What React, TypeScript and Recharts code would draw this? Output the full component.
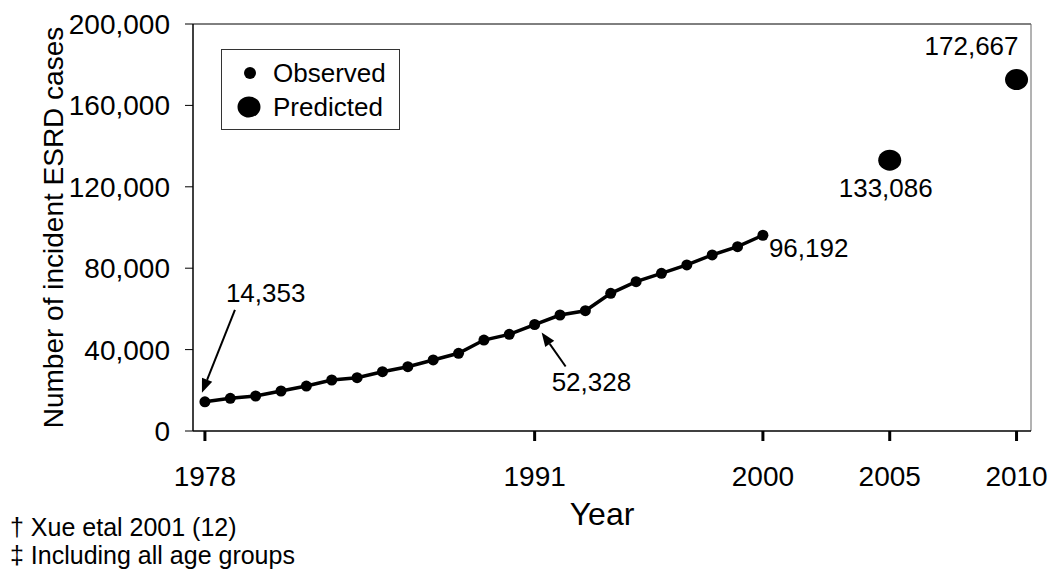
import React from "react";
import { ComposedChart, Line, Scatter, XAxis, YAxis, Legend, ReferenceLine } from "recharts";

// incident ESRD cases, observed 1978-2000 and predicted 2005/2010
const OBS_YEARS = [1978, 1979, 1980, 1981, 1982, 1983, 1984, 1985, 1986, 1987, 1988, 1989, 1990, 1991, 1992, 1993, 1994, 1995, 1996, 1997, 1998, 1999, 2000];
const OBS_CASES = [14353, 16070, 17200, 19660, 22100, 25060, 26200, 29140, 31600, 34900, 38180, 44700, 47500, 52328, 57000, 59100, 67650, 73400, 77500, 81600, 86500, 90600, 96192];
const PRED_YEARS = [2005, 2010];
const PRED_CASES = [133086, 172667];

const X_TICKS = [1978, 1991, 2000, 2005, 2010];
const Y_TICKS = [0, 40000, 80000, 120000, 160000, 200000];
const LEGEND_ITEMS = ["Observed", "Predicted"];
const FOOTNOTES = ["\u2020 Xue etal 2001 (12)", "\u2021 Including all age groups"];

const X_MIN = 1977.53;
const X_MAX = 2010.57;
const FONT = "'Liberation Sans', Arial, sans-serif";

const observed = OBS_YEARS.map((year, i) => ({ year, cases: OBS_CASES[i] }));
const predicted = PRED_YEARS.map((year, i) => ({ year, cases: PRED_CASES[i] }));

// where each value label sits relative to its point (arrow = tail dx,dy -> tip dx,dy)
const CALLOUTS: Record<number, { dx: number; dy: number; anchor: string; arrow?: number[] }> = {
  1978: { dx: 21, dy: -100, anchor: "start", arrow: [30, -92, -3, -9] },
  1991: { dx: 17, dy: 66, anchor: "start", arrow: [31, 42, 7, 8] },
  2000: { dx: 6, dy: 22, anchor: "start" },
  2005: { dx: -4, dy: 37, anchor: "middle" },
  2010: { dx: 2, dy: -25, anchor: "end" },
};

const fmt = (v: number) => v.toLocaleString("en-US");

function Callout({ x, y, year, cases }: { x: number; y: number; year: number; cases: number }) {
  const c = CALLOUTS[year];
  if (!c) return null;
  let arrow = null;
  if (c.arrow) {
    const [tx, ty, hx, hy] = c.arrow;
    const x1 = x + tx, y1 = y + ty, x2 = x + hx, y2 = y + hy;
    const len = Math.hypot(x2 - x1, y2 - y1);
    const ux = (x2 - x1) / len, uy = (y2 - y1) / len;
    const bx = x2 - ux * 14, by = y2 - uy * 14;
    arrow = (
      <g>
        <line x1={x1} y1={y1} x2={bx} y2={by} stroke="#000" strokeWidth={2} />
        <polygon points={`${x2},${y2} ${bx - uy * 5.5},${by + ux * 5.5} ${bx + uy * 5.5},${by - ux * 5.5}`} fill="#000" />
      </g>
    );
  }
  return (
    <g>
      {arrow}
      <text x={x + c.dx} y={y + c.dy} textAnchor={c.anchor as any} fontSize={26} fill="#000">
        {fmt(cases)}
      </text>
    </g>
  );
}

const ObservedDot = (props: any) => {
  const { cx, cy, payload, index } = props;
  return (
    <g key={`obs-${index}`}>
      <circle cx={cx} cy={cy} r={5.5} fill="#000" />
      <Callout x={cx} y={cy} year={payload.year} cases={payload.cases} />
    </g>
  );
};

const PredictedDot = (props: any) => {
  const { cx, cy, payload } = props;
  return (
    <g>
      <ellipse cx={cx} cy={cy} rx={11.5} ry={10.5} fill="#000" />
      <Callout x={cx} y={cy} year={payload.year} cases={payload.cases} />
    </g>
  );
};

const LegendBox = () => (
  <svg width={177} height={79} style={{ display: "block", border: "1px solid #333", background: "#fff", fontFamily: FONT }}>
    <circle cx={28} cy={23} r={6} fill="#000" />
    <text x={51} y={32} fontSize={26} fill="#000">{LEGEND_ITEMS[0]}</text>
    <ellipse cx={27} cy={57} rx={11.5} ry={10.5} fill="#000" />
    <text x={51} y={66} fontSize={26} fill="#000">{LEGEND_ITEMS[1]}</text>
  </svg>
);

export default function App() {
  return (
    <div style={{ position: "absolute", left: 0, top: 0, width: 1051, height: 572, fontFamily: FONT, background: "#fff" }}>
      <ComposedChart width={1051} height={572} margin={{ top: 24, right: 20, bottom: 0, left: 0 }}>
        <XAxis
          type="number"
          dataKey="year"
          domain={[X_MIN, X_MAX]}
          ticks={X_TICKS}
          allowDataOverflow
          height={141}
          tickSize={10}
          tickMargin={25}
          tick={{ fill: "#000", fontSize: 28 }}
          axisLine={{ stroke: "#000", strokeWidth: 1.5 }}
          tickLine={{ stroke: "#000", strokeWidth: 3 }}
          label={{ value: "Year", position: "insideBottom", offset: 47, dx: -10, fill: "#000", fontSize: 32 }}
        />
        <YAxis
          type="number"
          dataKey="cases"
          domain={[0, 200000]}
          ticks={Y_TICKS}
          width={193}
          tickSize={8}
          tickMargin={15}
          tickFormatter={fmt}
          tick={{ fill: "#000", fontSize: 28 }}
          axisLine={{ stroke: "#000", strokeWidth: 1.5 }}
          tickLine={{ stroke: "#000" }}
          label={{
            value: "Number of incident ESRD cases",
            angle: -90,
            position: "insideLeft",
            offset: 41,
            dx: 12,
            fill: "#000",
            fontSize: 28,
            style: { textAnchor: "middle" },
          }}
        />
        <ReferenceLine y={200000} stroke="#000" strokeWidth={1} />
        <ReferenceLine x={X_MAX} stroke="#666" strokeWidth={1} />
        <Legend
          layout="horizontal"
          verticalAlign="middle"
          align="center"
          wrapperStyle={{ left: 221, top: 49, width: 179, height: 81 }}
          content={() => <LegendBox />}
        />
        <Line
          data={observed}
          dataKey="cases"
          stroke="#000"
          strokeWidth={3.5}
          dot={ObservedDot}
          activeDot={false}
          isAnimationActive={false}
        />
        <Scatter data={predicted} dataKey="cases" fill="#000" shape={PredictedDot} isAnimationActive={false} />
      </ComposedChart>
      <svg width={1051} height={572} style={{ position: "absolute", left: 0, top: 0, pointerEvents: "none" }}>
        {FOOTNOTES.map((t, i) => (
          <text key={t} x={10} y={536 + i * 28} fontSize={25} fill="#000">
            {t}
          </text>
        ))}
      </svg>
    </div>
  );
}
